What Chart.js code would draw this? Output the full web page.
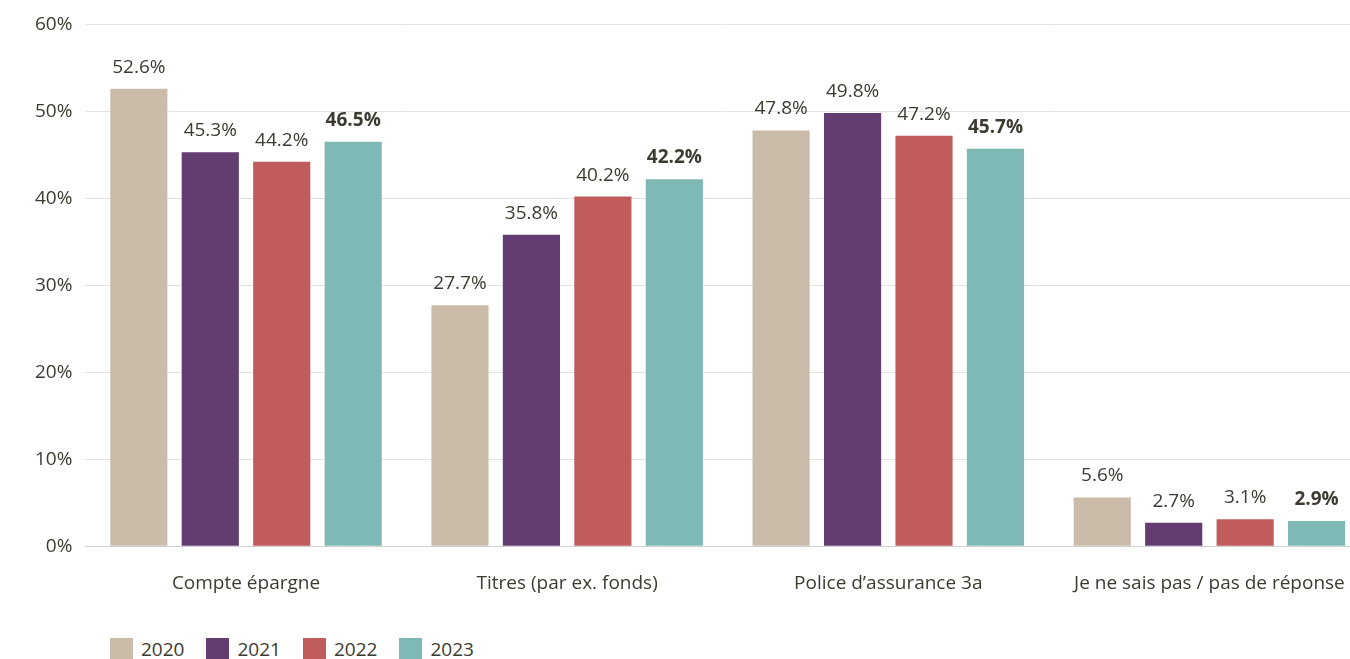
<!DOCTYPE html>
<html>
<head>
<meta charset="utf-8">
<script src="https://cdn.jsdelivr.net/npm/chart.js@4/dist/chart.umd.min.js"></script>
<style>
  html, body { margin: 0; padding: 0; background: #fff; overflow: hidden; width: 1350px; height: 659px; }
  #wrap { position: absolute; left: 0; top: 0; width: 1370px; height: 625px; }
  #legend { position: absolute; left: 110px; top: 636px; display: flex; font-family: "Open Sans", sans-serif; font-size: 19px; color: #3d3a30; }
  .item { display: flex; align-items: center; margin-right: 22px; }
  .box { width: 23px; height: 23px; margin-right: 8px; }
</style>
</head>
<body>
<div id="wrap"><canvas id="c"></canvas></div>
<div id="legend"></div>
<script>
const categories = ["Compte épargne", "Titres (par ex. fonds)", "Police d’assurance 3a", "Je ne sais pas / pas de réponse"];
const years = ["2020", "2021", "2022", "2023"];
const values2020 = [52.6, 27.7, 47.8, 5.6];
const values2021 = [45.3, 35.8, 49.8, 2.7];
const values2022 = [44.2, 40.2, 47.2, 3.1];
const values2023 = [46.5, 42.2, 45.7, 2.9];
const colors = ["#cbbcaa", "#633d71", "#c15c5c", "#7fb9b6"];
const yTicks = [0, 10, 20, 30, 40, 50, 60];

const series = [values2020, values2021, values2022, values2023];
const textColor = "#3d3a30";
const fontFamily = "'Open Sans', sans-serif";

const labelPlugin = {
  id: "barLabels",
  afterDatasetsDraw(chart) {
    const ctx = chart.ctx;
    ctx.save();
    ctx.textAlign = "center";
    ctx.textBaseline = "bottom";
    ctx.fillStyle = textColor;
    chart.data.datasets.forEach((ds, i) => {
      const meta = chart.getDatasetMeta(i);
      ctx.font = (i === 3 ? "bold " : "") + "19px " + fontFamily;
      meta.data.forEach((el, j) => {
        ctx.fillText(ds.data[j].toFixed(1) + "%", el.x, el.y - 12);
      });
    });
    ctx.restore();
  }
};

new Chart(document.getElementById("c"), {
  type: "bar",
  data: {
    labels: categories,
    datasets: years.map((y, i) => ({
      label: y,
      data: series[i],
      backgroundColor: colors[i],
      categoryPercentage: 0.89,
      barPercentage: 0.8
    }))
  },
  options: {
    responsive: true,
    maintainAspectRatio: false,
    animation: false,
    layout: { padding: { top: 18, left: 22, right: 0, bottom: 12 } },
    plugins: { legend: { display: false }, tooltip: { enabled: false } },
    scales: {
      x: {
        grid: { display: false },
        border: { color: "#d0d0d0" },
        ticks: { color: textColor, font: { family: fontFamily, size: 19 }, padding: 18, maxRotation: 0 }
      },
      y: {
        min: 0, max: 60,
        afterBuildTicks(axis) { axis.ticks = yTicks.map(v => ({ value: v })); },
        grid: { color: "#e2e2e2", drawTicks: false },
        border: { display: false },
        ticks: { color: textColor, font: { family: fontFamily, size: 19 }, padding: 13, callback: v => v + "%" }
      }
    }
  },
  plugins: [labelPlugin]
});

const leg = document.getElementById("legend");
years.forEach((y, i) => {
  const it = document.createElement("div");
  it.className = "item";
  const b = document.createElement("div");
  b.className = "box";
  b.style.background = colors[i];
  const t = document.createElement("span");
  t.textContent = y;
  it.appendChild(b); it.appendChild(t);
  leg.appendChild(it);
});
</script>
</body>
</html>
